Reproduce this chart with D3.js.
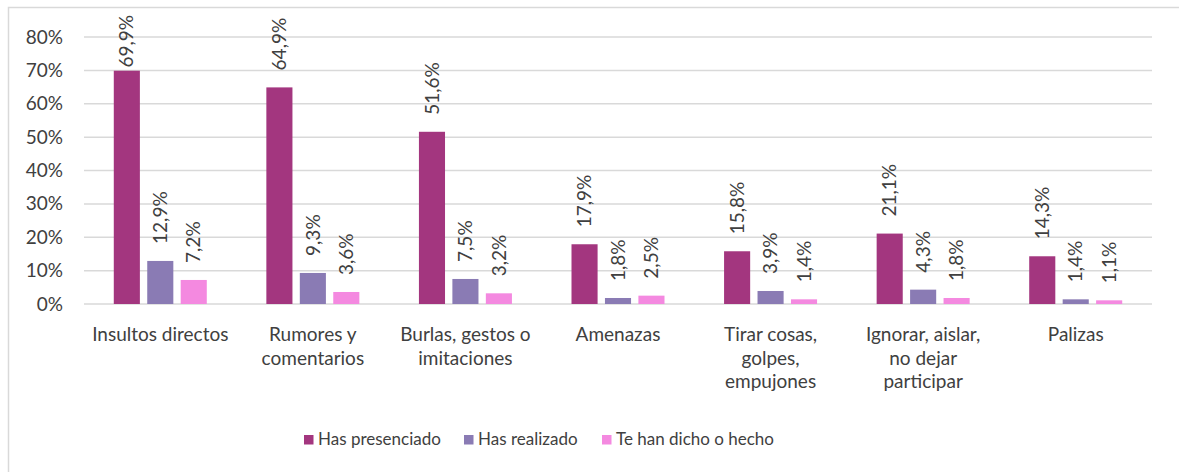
<!DOCTYPE html>
<html>
<head>
<meta charset="utf-8">
<script src="https://cdn.jsdelivr.net/npm/d3@7"></script>
<style>
  body { margin: 0; background: #fff; }
  svg text { font-family: Lato, "Open Sans", sans-serif; fill: #404040; }
</style>
</head>
<body>
<svg id="chart" width="1179" height="472"></svg>
<script>
// data
const categories = [
  ["Insultos directos"],
  ["Rumores y", "comentarios"],
  ["Burlas, gestos o", "imitaciones"],
  ["Amenazas"],
  ["Tirar cosas,", "golpes,", "empujones"],
  ["Ignorar, aislar,", "no dejar", "participar"],
  ["Palizas"]
];
const seriesNames = ["Has presenciado", "Has realizado", "Te han dicho o hecho"];
const presenciado = [69.9, 64.9, 51.6, 17.9, 15.8, 21.1, 14.3];
const realizado = [12.9, 9.3, 7.5, 1.8, 3.9, 4.3, 1.4];
const dichoHecho = [7.2, 3.6, 3.2, 2.5, 1.4, 1.8, 1.1];
const yTicks = [0, 10, 20, 30, 40, 50, 60, 70, 80];
const colors = ["#A3367F", "#8A7BB4", "#F489E0"];

const series = [presenciado, realizado, dichoHecho];

const svg = d3.select("#chart");

// outer frame
svg.append("rect")
    .attr("x", 8.5).attr("y", 7.5)
    .attr("width", 1180).attr("height", 480)
    .attr("fill", "none")
    .attr("stroke", "#D9D9D9")
    .attr("stroke-width", 1.5);

const plotLeft = 84, plotRight = 1152, plotTop = 37, plotBottom = 304;

const x = d3.scaleBand()
    .domain(d3.range(categories.length))
    .range([plotLeft, plotRight]);

const x1 = d3.scaleBand()
    .domain(d3.range(series.length))
    .range([0, 93])
    .paddingInner(0.22);

const y = d3.scaleLinear()
    .domain([0, 80])
    .range([plotBottom, plotTop]);

// gridlines
svg.append("g")
    .selectAll("line")
    .data(yTicks)
    .enter()
    .append("line")
    .attr("x1", plotLeft).attr("x2", plotRight)
    .attr("y1", d => y(d)).attr("y2", d => y(d))
    .attr("stroke", "#D9D9D9")
    .attr("stroke-width", 1.5);

// y axis labels
const yAxis = svg.append("g")
    .attr("transform", "translate(" + plotLeft + ",0)")
    .call(d3.axisLeft(y).tickValues(yTicks).tickFormat(d => d + "%").tickSize(0).tickPadding(21));
yAxis.select(".domain").remove();
yAxis.selectAll("text")
    .style("font-size", "19px")
    .style("font-family", "Lato, sans-serif")
    .attr("fill", "#404040");

// bars
const groups = svg.append("g")
    .selectAll("g")
    .data(categories)
    .enter()
    .append("g")
    .attr("transform", (d, i) => "translate(" + (x(i) + (x.bandwidth() - 93) / 2) + ",0)");

groups.each(function(cat, i){
  const g = d3.select(this);
  const vals = series.map(s => s[i]);

  g.selectAll("rect")
      .data(vals)
      .enter()
      .append("rect")
      .attr("x", (d, j) => x1(j))
      .attr("y", d => y(d))
      .attr("width", x1.bandwidth())
      .attr("height", d => plotBottom - y(d))
      .attr("fill", (d, j) => colors[j]);

  g.selectAll("text.val")
      .data(vals)
      .enter()
      .append("text")
      .attr("class", "val")
      .style("font-size", "19px")
      .attr("text-anchor", "start")
      .attr("dy", "0.35em")
      .text(d => d.toFixed(1).replace(".", ",") + "%")
      .each(function(d, j){
        const len = this.getComputedTextLength();
        const pos = Math.max(y(d) - 17, 15 + len);
        d3.select(this)
          .attr("transform", "translate(" + (x1(j) + x1.bandwidth() / 2) + "," + pos + ") rotate(-90)");
      });
});

// category labels
svg.append("g")
    .selectAll("text")
    .data(categories)
    .enter()
    .append("text")
    .attr("x", (d, i) => x(i) + x.bandwidth() / 2)
    .attr("y", 341)
    .attr("text-anchor", "middle")
    .style("font-size", "19px")
    .each(function(lines){
      d3.select(this).selectAll("tspan")
        .data(lines)
        .enter()
        .append("tspan")
        .attr("x", d3.select(this).attr("x"))
        .attr("dy", (d, k) => k === 0 ? 0 : 23.5)
        .text(d => d);
    });

// legend
const legendX = [304, 464, 602];
const legend = svg.append("g")
    .selectAll("g")
    .data(seriesNames)
    .enter()
    .append("g")
    .attr("transform", (d, i) => "translate(" + legendX[i] + ",435)");

legend.append("rect")
    .attr("width", 9.5).attr("height", 9.5)
    .attr("fill", (d, i) => colors[i]);

legend.append("text")
    .attr("x", 14)
    .attr("y", 10)
    .style("font-size", "17px")
    .text(d => d);
</script>
</body>
</html>
